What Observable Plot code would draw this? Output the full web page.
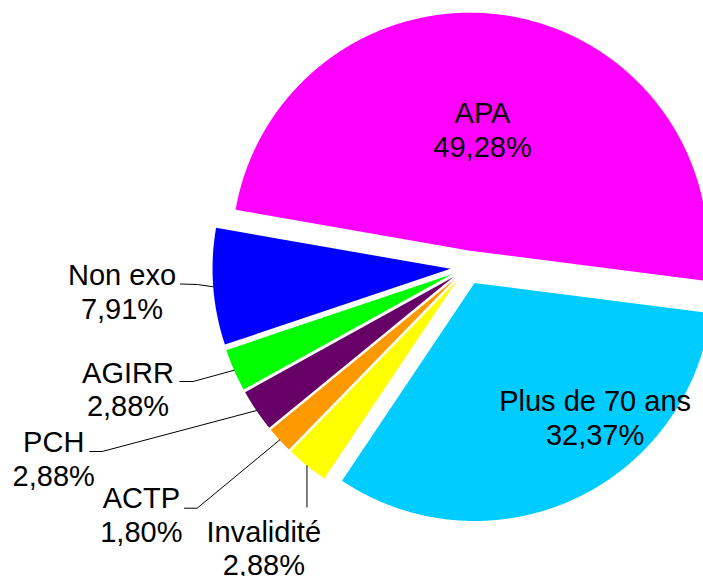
<!DOCTYPE html>
<html>
<head>
<meta charset="utf-8">
<script src="https://cdn.jsdelivr.net/npm/d3@7"></script>
<script src="https://cdn.jsdelivr.net/npm/@observablehq/plot@0.6"></script>
<style>
  html, body { margin: 0; padding: 0; overflow: hidden; background: #ffffff; }
  #chart svg { overflow: hidden; display: block; }
</style>
</head>
<body>
<div id="chart"></div>
<script>
// ---- data ----
const categories = ["APA", "Plus de 70 ans", "Invalidité", "ACTP", "PCH", "AGIRR", "Non exo"];
const values = [49.28, 32.37, 2.88, 1.80, 2.88, 2.88, 7.91];
const valueLabels = ["49,28%", "32,37%", "2,88%", "1,80%", "2,88%", "2,88%", "7,91%"];
const colors = ["#FF00FF", "#00CCFF", "#FFFF00", "#FF9900", "#660066", "#00FF00", "#0000FF"];

// ---- layout (pixel space) ----
const W = 703, H = 576;
const CX = 467, CY = 267, R = 238, EXPLODE = 17;
const START = -80.1 * Math.PI / 180;
// label anchor: centre x, baseline of last line
const labelX = [482, 594.6, 263.3, 140.8, 53.2, 127.5, 121.5];
const labelY = [156, 444, 574.5, 541, 485, 415.7, 318.3];
// leader lines: start point and elbow (null = no leader); "arc" = take arc x
const leaderStart = [null, null, ["arc", 506.7], [184, 507.7], [89.3, 451], [179.3, 381], [180, 283.5]];
const leaderElbow = [null, null, null, [196.7, 507.7], [101.7, 451], [192.7, 381], [197, 284]];

const FONT = "'Liberation Sans', Arial, Helvetica, sans-serif";

// ---- geometry from the pie layout ----
const arcs = d3.pie().sort(null).startAngle(START).endAngle(START + 2 * Math.PI)(values);
const dir = a => [Math.sin(a), -Math.cos(a)];

const wedges = [];
const leaders = [];
arcs.forEach((a, i) => {
  const name = categories[i];
  const mid = (a.startAngle + a.endAngle) / 2;
  const [mx, my] = dir(mid);
  const cx = CX + EXPLODE * mx, cy = CY + EXPLODE * my;
  wedges.push({name, x: cx, y: cy});
  const n = Math.max(12, Math.ceil((a.endAngle - a.startAngle) / (Math.PI / 720)));
  for (let k = 0; k <= n; ++k) {
    const t = a.startAngle + (a.endAngle - a.startAngle) * k / n;
    const [dx, dy] = dir(t);
    wedges.push({name, x: cx + R * dx, y: cy + R * dy});
  }
  wedges.push({name, x: cx, y: cy});

  if (leaderStart[i]) {
    const ax = cx + R * mx, ay = cy + R * my;
    const s = leaderStart[i];
    leaders.push({name, x: s[0] === "arc" ? ax : s[0], y: s[1]});
    if (leaderElbow[i]) leaders.push({name, x: leaderElbow[i][0], y: leaderElbow[i][1]});
    leaders.push({name, x: ax, y: ay});
  }
});

const labels = categories.map((c, i) => ({name: c, text: c + "\n" + valueLabels[i], x: labelX[i], y: labelY[i]}));

const chart = Plot.plot({
  width: W,
  height: H,
  margin: 0,
  style: {background: "#ffffff", fontFamily: FONT},
  x: {domain: [0, W], range: [0, W], axis: null},
  y: {domain: [0, H], range: [0, H], axis: null},
  color: {type: "ordinal", domain: categories, range: colors},
  marks: [
    Plot.line(wedges, {x: "x", y: "y", z: "name", fill: "name", stroke: "none", curve: "linear", clip: true}),
    Plot.line(leaders, {x: "x", y: "y", z: "name", stroke: "#000000", strokeWidth: 1, curve: "linear"}),
    Plot.text(labels, {
      x: "x", y: "y", text: "text",
      textAnchor: "middle", lineAnchor: "bottom", lineHeight: 1.155,
      fontSize: 29, fontFamily: FONT, fill: "#000000"
    })
  ]
});

document.getElementById("chart").appendChild(chart);
</script>
</body>
</html>
